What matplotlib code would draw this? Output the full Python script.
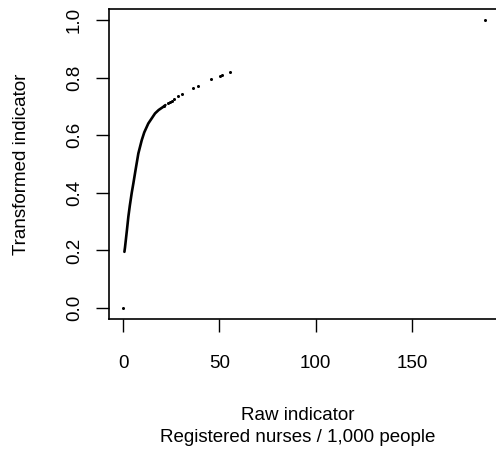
import numpy as np
import matplotlib
matplotlib.use('Agg')
from matplotlib import pyplot as plt

plt.rcParams['font.family'] = ['Liberation Sans', 'DejaVu Sans']

# dense part of the curve (reads as a continuous thick line)
raw_dense = [0.7, 1.0, 1.5, 2.0, 2.75, 3.5, 4.5, 5.35, 6.5, 7.94, 9.7, 11.0,
             13.1, 15.0, 16.6, 18.5, 20.9, 22.0]
trans_dense = [0.195, 0.21, 0.24, 0.27, 0.317, 0.355, 0.40, 0.433, 0.48, 0.537,
               0.583, 0.61, 0.641, 0.66, 0.676, 0.688, 0.699, 0.705]

# sparse points in the tail, plus the two end points
raw_pts = [0.0, 21.5, 23.5, 24.2, 25.3, 26.5, 28.7, 30.5, 36.5, 39.1, 45.7,
           50.4, 51.2, 55.6, 188.0]
trans_pts = [0.0, 0.703, 0.713, 0.716, 0.719, 0.726, 0.736, 0.742, 0.763,
             0.772, 0.795, 0.806, 0.809, 0.82, 1.0]

x_ticks = [0, 50, 100, 150]
y_ticks = [0.0, 0.2, 0.4, 0.6, 0.8, 1.0]

fig = plt.figure(figsize=(4.96, 4.57), dpi=100)
ax = fig.add_axes([0.219, 0.301, 0.788, 0.680])

ax.plot(raw_dense, trans_dense, color='black', lw=1.9, solid_capstyle='round')
ax.plot(raw_pts, trans_pts, 'o', color='black', markersize=2.2, markeredgewidth=0)

ax.set_xlim(-7.5, 195.5)
ax.set_ylim(-0.04, 1.04)
ax.set_xticks(x_ticks)
ax.set_xticklabels([str(v) for v in x_ticks])
ax.set_yticks(y_ticks)
ax.set_yticklabels(['%.1f' % v for v in y_ticks], rotation=90, va='center')

for s in ax.spines.values():
    s.set_linewidth(1.2)
ax.tick_params(direction='out', length=9.5, width=1.0, labelsize=13.5)
ax.tick_params(axis='x', pad=16)
ax.tick_params(axis='y', pad=9)

ax.set_ylabel('Transformed indicator', fontsize=13.5, labelpad=26)
fig.text(0.6, 1 - 415 / 457, 'Raw indicator', ha='center', va='center', fontsize=13.5)
fig.text(0.6, 1 - 438 / 457, 'Registered nurses / 1,000 people', ha='center', va='center', fontsize=13.5)

fig.savefig('out.png', dpi=100)
